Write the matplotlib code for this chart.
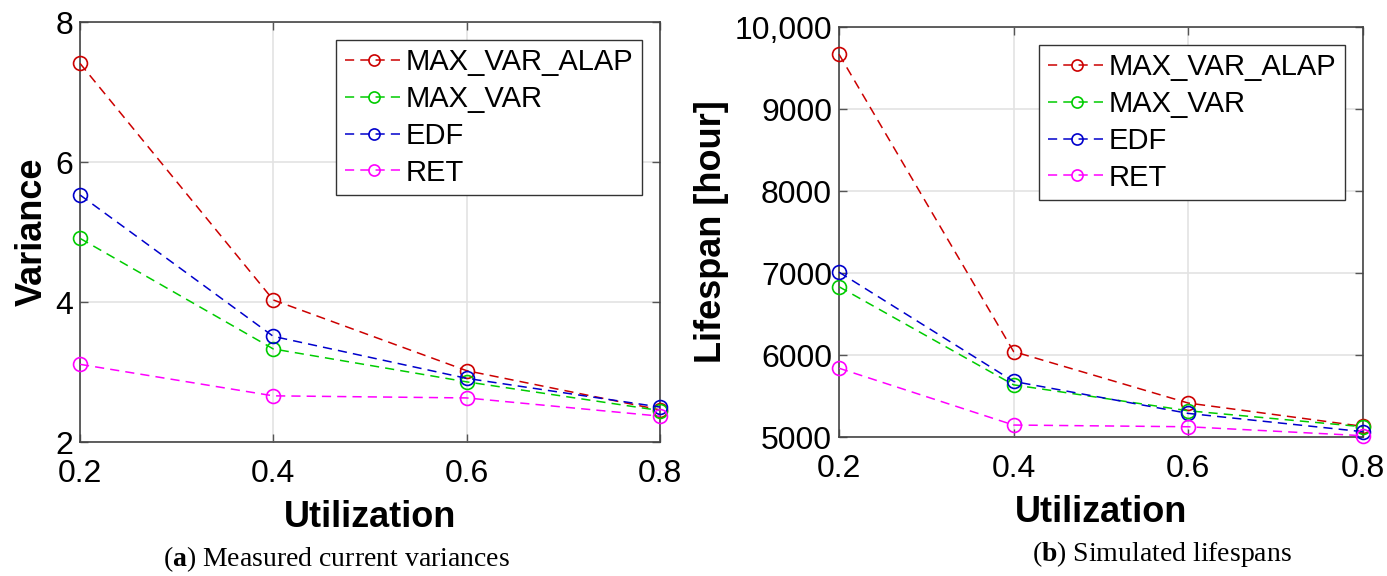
import matplotlib.pyplot as plt

# Data
utilization = [0.2, 0.4, 0.6, 0.8]
series_names = ["MAX_VAR_ALAP", "MAX_VAR", "EDF", "RET"]
series_colors = ["#cc0000", "#00cc00", "#0000cc", "#ff00ff"]

variance_alap = [7.41, 4.03, 3.02, 2.46]
variance_maxvar = [4.91, 3.33, 2.86, 2.45]
variance_edf = [5.53, 3.51, 2.91, 2.50]
variance_ret = [3.11, 2.66, 2.63, 2.37]

lifespan_alap = [9668, 6042, 5414, 5130]
lifespan_maxvar = [6833, 5636, 5320, 5125]
lifespan_edf = [7011, 5678, 5288, 5065]
lifespan_ret = [5839, 5146, 5125, 5016]

x_ticks = [0.2, 0.4, 0.6, 0.8]
x_tick_labels = ["0.2", "0.4", "0.6", "0.8"]
var_ticks = [2, 4, 6, 8]
life_ticks = [5000, 6000, 7000, 8000, 9000, 10000]
life_tick_labels = ["5000", "6000", "7000", "8000", "9000", "10,000"]

plt.rcParams['font.family'] = ['Liberation Sans', 'DejaVu Sans']
plt.rcParams['mathtext.fontset'] = 'custom'
plt.rcParams['mathtext.bf'] = 'Liberation Serif:bold'
plt.rcParams['mathtext.rm'] = 'Liberation Serif'

fig = plt.figure(figsize=(13.87, 5.76), dpi=100)
ax1 = fig.add_axes([0.0577, 0.2326, 0.418, 0.729])
ax2 = fig.add_axes([0.6049, 0.2413, 0.3777, 0.7118])


def draw_panel(ax, data, ylim, yticks, ylabel, yticklabels=None):
    for vals, name, col in zip(data, series_names, series_colors):
        ax.plot(utilization, vals, linestyle=(0, (6, 4)), color=col, lw=1.1,
                marker="o", markersize=10, markerfacecolor="none",
                markeredgewidth=1.2, label=name, clip_on=False, zorder=3)
    ax.set_xlim(0.2, 0.8)
    ax.set_ylim(*ylim)
    ax.set_xticks(x_ticks)
    ax.set_xticklabels(x_tick_labels)
    ax.set_yticks(yticks)
    if yticklabels is not None:
        ax.set_yticklabels(yticklabels)
    ax.grid(True, color="#e3e3e3", lw=1.2)
    ax.set_axisbelow(True)
    ax.tick_params(direction="in", top=True, right=True, length=6,
                   width=1, color="#555555", labelsize=23)
    ax.tick_params(axis="x", pad=12)
    ax.tick_params(axis="y", pad=5)
    for s in ax.spines.values():
        s.set_color("#444444")
        s.set_linewidth(1.2)
    ax.set_xlabel("Utilization", fontsize=26, fontweight="bold", labelpad=8)
    ax.set_ylabel(ylabel, fontsize=26, fontweight="bold", labelpad=4)
    leg = ax.legend(loc="upper right", fontsize=21, frameon=True, fancybox=False,
                    edgecolor="#333333", framealpha=1, handlelength=2.0,
                    handletextpad=0.1, borderpad=0.3, labelspacing=0.3,
                    markerscale=0.8, borderaxespad=0.6)
    leg.get_frame().set_linewidth(1.0)


draw_panel(ax1, [variance_alap, variance_maxvar, variance_edf, variance_ret],
           (2, 8), var_ticks, "Variance")
draw_panel(ax2, [lifespan_alap, lifespan_maxvar, lifespan_edf, lifespan_ret],
           (5000, 10000), life_ticks, "Lifespan [hour]", life_tick_labels)

# Sub-captions
fig.text(0.2423, 0.004, r"($\mathbf{a}$) Measured current variances",
         ha="center", va="bottom", fontsize=20, family="Liberation Serif")
fig.text(0.838, 0.012, r"($\mathbf{b}$) Simulated lifespans",
         ha="center", va="bottom", fontsize=20, family="Liberation Serif")

fig.savefig("out.png", dpi=100)
